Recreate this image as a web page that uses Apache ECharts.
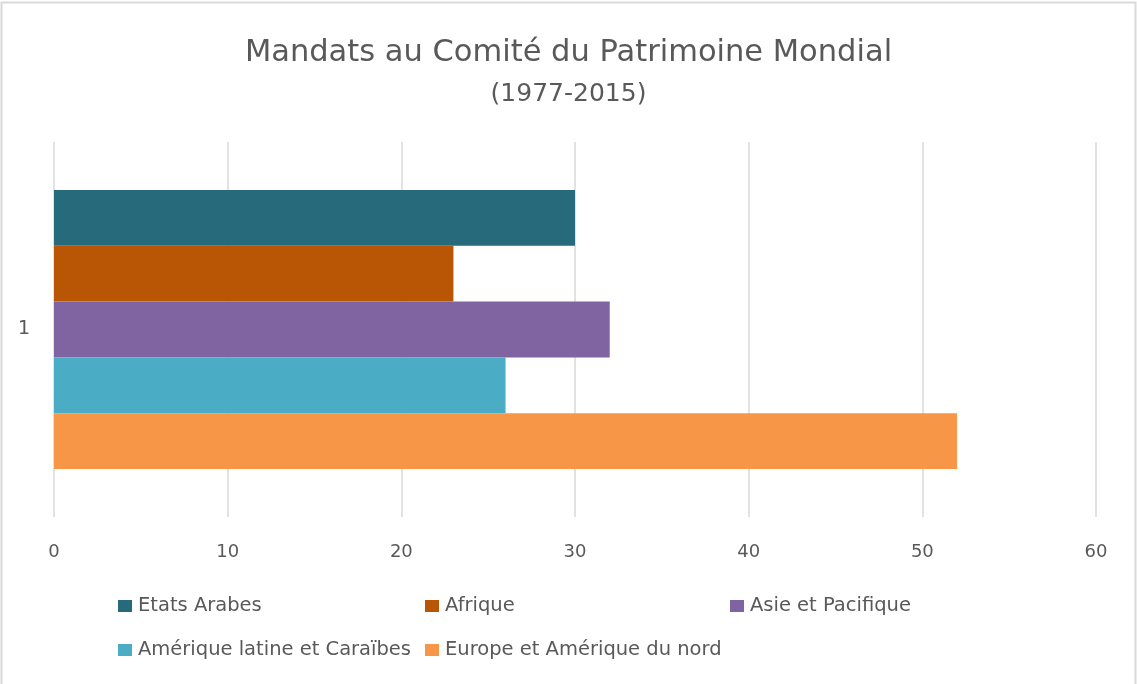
<!DOCTYPE html>
<html>
<head>
<meta charset="utf-8">
<script src="https://cdn.jsdelivr.net/npm/echarts@6/dist/echarts.min.js"></script>
<style>
html,body{margin:0;padding:0;background:#fff;}
#chart{width:1137px;height:684px;}
</style>
</head>
<body>
<div id="chart"></div>
<script>
const categories = ['1'];
const seriesNames = ['Etats Arabes', 'Afrique', 'Asie et Pacifique', 'Amérique latine et Caraïbes', 'Europe et Amérique du nord'];
const etatsArabes = [30];
const afrique = [23];
const asiePacifique = [32];
const ameriqueLatine = [26];
const europeAmerique = [52];
const xMin = 0, xMax = 60, xInterval = 10;
const titleText = 'Mandats au Comité du Patrimoine Mondial';
const subtitleText = '(1977-2015)';

const seriesValues = [etatsArabes, afrique, asiePacifique, ameriqueLatine, europeAmerique];
const colors = ['#276A7C', '#B85606', '#8064A2', '#4BACC6', '#F79646'];
const FONT = 'DejaVu Sans';
const TXT = '#595959';

const legendPos = [
  {left: 118, top: 596},
  {left: 425, top: 596},
  {left: 730, top: 596},
  {left: 118, top: 640},
  {left: 425, top: 640}
];

const chart = echarts.init(document.getElementById('chart'), null, {renderer: 'canvas'});
chart.setOption({
  backgroundColor: '#fff',
  animation: false,
  color: colors,
  title: [
    {text: titleText, left: 'center', top: 33, textStyle: {fontFamily: FONT, fontSize: 30.5, fontWeight: 'normal', color: TXT}},
    {text: subtitleText, left: 'center', top: 77, textStyle: {fontFamily: FONT, fontSize: 25, fontWeight: 'normal', color: TXT}}
  ],
  legend: seriesNames.map((n, i) => ({
    data: [n],
    left: legendPos[i].left,
    top: legendPos[i].top,
    itemWidth: 14,
    itemHeight: 12,
    itemGap: 0,
    icon: 'rect',
    padding: 0,
    textStyle: {fontFamily: FONT, fontSize: 19.5, color: TXT, padding: [0, 0, 0, 1]},
    selectedMode: false
  })),
  grid: {left: 54, right: 41, top: 142, bottom: 167, containLabel: false},
  xAxis: {
    type: 'value',
    min: xMin, max: xMax, interval: xInterval,
    axisLine: {show: false},
    axisTick: {show: false},
    splitLine: {show: true, lineStyle: {color: '#D9D9D9', width: 1.5}},
    axisLabel: {fontFamily: FONT, fontSize: 18, color: TXT, margin: 26}
  },
  yAxis: {
    type: 'category',
    data: categories,
    inverse: true,
    axisLine: {show: false},
    axisTick: {show: false},
    splitLine: {show: false},
    axisLabel: {fontFamily: FONT, fontSize: 19, color: TXT, margin: 24}
  },
  series: seriesNames.map((n, i) => ({
    name: n,
    type: 'bar',
    data: seriesValues[i],
    barGap: '0%',
    barCategoryGap: '25.6%',
    itemStyle: {color: colors[i]}
  })),
  graphic: [{
    type: 'rect',
    shape: {x: 1.5, y: 2.5, width: 1134, height: 720},
    style: {fill: 'none', stroke: '#D9D9D9', lineWidth: 2},
    silent: true,
    z: 100
  }]
});
</script>
</body>
</html>
